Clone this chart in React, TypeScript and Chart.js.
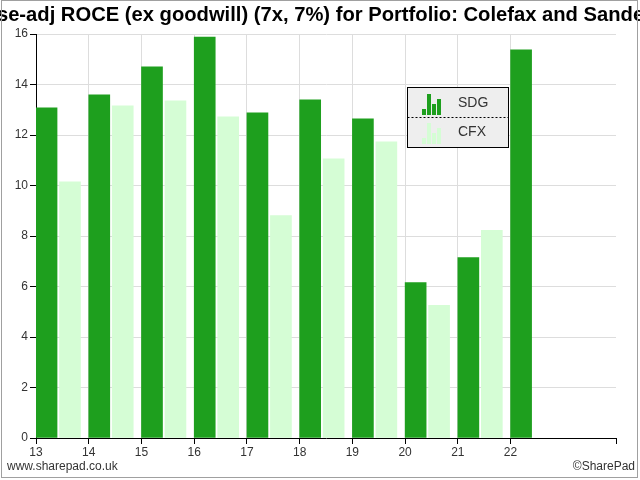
import React, { useEffect, useRef } from "react";
import { Chart, registerables } from "chart.js";

Chart.register(...registerables);

// Financial years (20xx) and lease-adjusted ROCE (%) per company
const years = [13, 14, 15, 16, 17, 18, 19, 20, 21, 22];
const sdgValues = [13.08, 13.59, 14.7, 15.88, 12.88, 13.39, 12.64, 6.16, 7.15, 15.37];
const cfxValues: (number | null)[] = [10.15, 13.16, 13.35, 12.72, 8.81, 11.06, 11.73, 5.25, 8.22, null];
const seriesNames = ["SDG", "CFX"];
const yTicks = [0, 2, 4, 6, 8, 10, 12, 14, 16];

const titleText =
  "Lease-adj ROCE (ex goodwill) (7x, 7%) for Portfolio: Colefax and Sanderson";
const footerLeft = "www.sharepad.co.uk";
const footerRight = "\u00a9SharePad";

const SDG_COLOR = "#1e9f1e";
const CFX_COLOR = "#d5fdd5";
const FONT = '"Liberation Sans", Arial, sans-serif';

const decorations = {
  id: "decorations",
  afterDraw(chart: Chart) {
    const ctx = chart.ctx;
    ctx.save();

    // title, centred and clipped by the canvas edges
    ctx.fillStyle = "#000";
    ctx.font = `bold 20.2px ${FONT}`;
    ctx.textAlign = "center";
    ctx.textBaseline = "alphabetic";
    ctx.fillText(titleText, 325, 21);

    // footer
    ctx.font = `12px ${FONT}`;
    ctx.fillStyle = "#333";
    ctx.textBaseline = "middle";
    ctx.textAlign = "left";
    ctx.fillText(footerLeft, 7, 467);
    ctx.textAlign = "right";
    ctx.fillText(footerRight, 635, 467);

    // legend box
    const bx = 407.5, by = 87.5, bw = 101, bh = 60;
    ctx.fillStyle = "#eeeeee";
    ctx.fillRect(bx, by, bw, bh);
    ctx.strokeStyle = "#000";
    ctx.lineWidth = 1;
    ctx.strokeRect(bx, by, bw, bh);
    ctx.setLineDash([2, 2]);
    ctx.beginPath();
    ctx.moveTo(bx, by + 30);
    ctx.lineTo(bx + bw, by + 30);
    ctx.stroke();
    ctx.setLineDash([]);

    const iconHeights = [6, 21, 11, 16];
    const colors = [SDG_COLOR, CFX_COLOR];
    seriesNames.forEach((name, i) => {
      const baseY = 115 + i * 29;
      ctx.fillStyle = colors[i];
      iconHeights.forEach((h, k) => {
        ctx.fillRect(422 + k * 5, baseY - h, 4, h);
      });
      ctx.fillStyle = "#333";
      ctx.font = `14px ${FONT}`;
      ctx.textAlign = "left";
      ctx.textBaseline = "middle";
      ctx.fillText(name, 458, 103 + i * 29);
    });

    // outer frame
    ctx.strokeStyle = "#a0a0a0";
    ctx.strokeRect(1.5, 0.5, 636, 477);
    ctx.restore();
  },
};

export default function App() {
  const canvasRef = useRef<HTMLCanvasElement | null>(null);

  useEffect(() => {
    document.body.style.margin = "0";
    const canvas = canvasRef.current;
    if (!canvas) return;

    const chart = new Chart(canvas, {
      type: "bar",
      data: {
        datasets: [
          {
            label: seriesNames[0],
            data: years.map((yr, i) => ({ x: yr + 0.2, y: sdgValues[i] })),
            backgroundColor: SDG_COLOR,
            borderWidth: 0,
            barThickness: 21,
            grouped: false,
          } as any,
          {
            label: seriesNames[1],
            data: years.map((yr, i) => ({ x: yr + 0.645, y: cfxValues[i] })),
            backgroundColor: CFX_COLOR,
            borderWidth: 0,
            barThickness: 21,
            grouped: false,
          } as any,
        ],
      },
      options: {
        responsive: false,
        animation: false,
        devicePixelRatio: 1,
        layout: { padding: { left: 0, right: 24, top: 34, bottom: 0 } },
        plugins: {
          legend: { display: false },
          title: { display: false },
          tooltip: { enabled: false },
        },
        scales: {
          x: {
            type: "linear",
            min: 13,
            max: 24,
            offset: false,
            afterFit: (s: any) => {
              s.height = 42;
            },
            afterBuildTicks: (s: any) => {
              s.ticks = [];
              for (let v = 13; v <= 24; v++) s.ticks.push({ value: v });
            },
            ticks: {
              stepSize: 1,
              autoSkip: false,
              maxRotation: 0,
              padding: 1,
              color: "#333",
              font: { family: FONT, size: 12 },
              callback: (v: any) => (Number(v) <= 22 ? String(v) : ""),
            },
            grid: {
              offset: false,
              color: (c: any) =>
                c.tick && c.tick.value >= 14 && c.tick.value <= 22 ? "#dddddd" : "rgba(0,0,0,0)",
              tickColor: (c: any) =>
                c.tick && (c.tick.value <= 22 || c.tick.value === 24) ? "#000" : "rgba(0,0,0,0)",
              tickLength: 6,
            },
            border: { color: "#000", width: 1 },
          },
          y: {
            min: 0,
            max: 16,
            afterFit: (s: any) => {
              s.width = 36;
            },
            afterBuildTicks: (s: any) => {
              s.ticks = yTicks.map((v) => ({ value: v }));
            },
            ticks: {
              padding: 2,
              color: "#333",
              font: { family: FONT, size: 12 },
            },
            grid: {
              color: (c: any) => (c.tick && c.tick.value === 0 ? "rgba(0,0,0,0)" : "#dddddd"),
              tickColor: "#000",
              tickLength: 6,
            },
            border: { color: "#000", width: 1 },
          },
        },
      },
      plugins: [decorations],
    });

    return () => chart.destroy();
  }, []);

  return (
    <div style={{ width: 640, height: 480, background: "#fff" }}>
      <canvas ref={canvasRef} width={640} height={480} style={{ display: "block" }} />
    </div>
  );
}
